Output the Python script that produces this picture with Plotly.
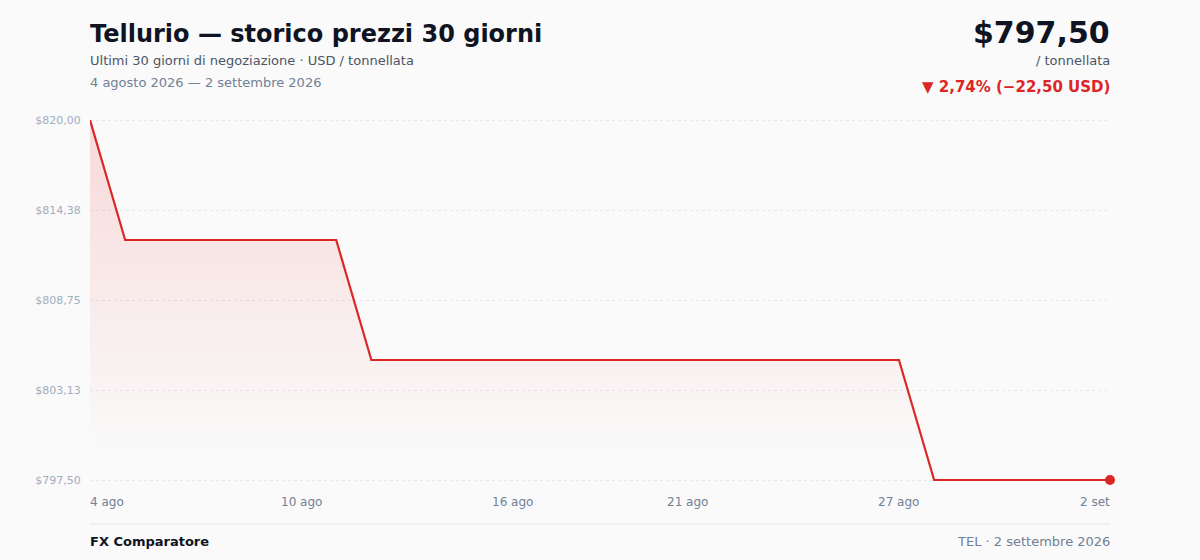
from decimal import Decimal, ROUND_HALF_UP

import plotly.graph_objects as go

# 30 giorni di prezzi (USD / tonnellata)
dates = [
    "2026-08-04", "2026-08-05", "2026-08-06", "2026-08-07", "2026-08-08",
    "2026-08-09", "2026-08-10", "2026-08-11", "2026-08-12", "2026-08-13",
    "2026-08-14", "2026-08-15", "2026-08-16", "2026-08-17", "2026-08-18",
    "2026-08-19", "2026-08-20", "2026-08-21", "2026-08-22", "2026-08-23",
    "2026-08-24", "2026-08-25", "2026-08-26", "2026-08-27", "2026-08-28",
    "2026-08-29", "2026-08-30", "2026-08-31", "2026-09-01", "2026-09-02",
]
prices = [
    820.0, 812.5, 812.5, 812.5, 812.5, 812.5, 812.5, 812.5, 805.0, 805.0,
    805.0, 805.0, 805.0, 805.0, 805.0, 805.0, 805.0, 805.0, 805.0, 805.0,
    805.0, 805.0, 805.0, 805.0, 797.5, 797.5, 797.5, 797.5, 797.5, 797.5,
]
y_ticks = [797.5, 803.125, 808.75, 814.375, 820.0]
x_tick_dates = ["2026-08-04", "2026-08-10", "2026-08-16", "2026-08-21", "2026-08-27", "2026-09-02"]
x_tick_labels = ["4 ago", "10 ago", "16 ago", "21 ago", "27 ago", "2 set"]

RED = "#dc2626"
BG = "#fafafa"
FONT = "DejaVu Sans"
low = min(prices)
high = max(prices)
pad = 0.125  # small headroom so the line at the edges is not clipped


def money(v):
    d = Decimal(str(v)).quantize(Decimal("0.01"), rounding=ROUND_HALF_UP)
    s = f"{d:,}".replace(",", "X").replace(".", ",").replace("X", ".")
    return "$" + s


def py(pix):
    # screen row -> paper y (the page has an 8px body margin)
    return (482 - pix) / 364


fig = go.Figure()

# baseline for the fill
fig.add_trace(go.Scatter(
    x=dates, y=[low] * len(dates), mode="lines",
    line=dict(width=0, color="rgba(0,0,0,0)"), hoverinfo="skip", showlegend=False,
))
fig.add_trace(go.Scatter(
    x=dates, y=prices, mode="lines", fill="tonexty",
    line=dict(color=RED, width=2.2),
    fillgradient=dict(
        type="vertical", start=low + 1.5, stop=high,
        colorscale=[[0, "rgba(239,68,68,0.0)"], [1, "rgba(239,68,68,0.18)"]],
    ),
    showlegend=False,
))
fig.add_trace(go.Scatter(
    x=[dates[-1]], y=[prices[-1]], mode="markers",
    marker=dict(color=RED, size=10), cliponaxis=False, showlegend=False,
))

annotations = []
for d, lab in zip(x_tick_dates, x_tick_labels):
    anchor, shift = "center", 0
    if d == dates[0]:
        anchor, shift = "left", -2
    elif d == dates[-1]:
        anchor, shift = "right", 2
    annotations.append(dict(
        x=d, xref="x", y=py(502), yref="paper", text=lab, showarrow=False, xshift=shift,
        xanchor=anchor, yanchor="middle", font=dict(size=12, color="#718096", family=FONT),
    ))

header = [
    dict(x=0, y=py(34), text="<b>Tellurio — storico prezzi 30 giorni</b>", xanchor="left",
         font=dict(size=24, color="#0f1423")),
    dict(x=0, y=py(61), text="Ultimi 30 giorni di negoziazione · USD / tonnellata", xanchor="left",
         font=dict(size=13, color="#4a5568")),
    dict(x=0, y=py(83), text="4 agosto 2026 — 2 settembre 2026", xanchor="left",
         font=dict(size=13, color="#718096")),
    dict(x=1, y=py(33), text="<b>$797,50</b>", xanchor="right",
         font=dict(size=30, color="#0f1423")),
    dict(x=1, y=py(61), text="/ tonnellata", xanchor="right",
         font=dict(size=13, color="#4a5568")),
    dict(x=1, y=py(87), text="<b>▼ 2,74% (−22,50 USD)</b>", xanchor="right",
         font=dict(size=15, color=RED)),
    dict(x=0, y=py(541), text="<b>FX Comparatore</b>", xanchor="left",
         font=dict(size=13, color="#0f1423")),
    dict(x=1, y=py(541), text="TEL · 2 settembre 2026", xanchor="right",
         font=dict(size=13, color="#718096")),
]
for a in header:
    a.update(xref="paper", yref="paper", showarrow=False, yanchor="middle",
             xshift=-2 if a["xanchor"] == "left" else 2)
annotations += header

fig.update_layout(
    width=1200, height=560,
    margin=dict(l=82, r=98, t=110, b=86),
    paper_bgcolor=BG, plot_bgcolor=BG,
    font=dict(family=FONT),
    annotations=annotations,
    shapes=[dict(type="line", xref="paper", yref="paper", x0=0, x1=1, y0=py(524), y1=py(524),
                 line=dict(color="#e5e7eb", width=1))],
    hovermode=False,
)
fig.update_xaxes(
    range=[dates[0], dates[-1]], showgrid=False, zeroline=False,
    showticklabels=False, showline=False,
)
fig.update_yaxes(
    range=[low - pad, high + pad], tickvals=y_ticks, ticktext=[money(v) for v in y_ticks],
    showgrid=True, gridcolor="#e5e7eb", griddash="dot", gridwidth=1,
    zeroline=False, showline=False, ticks="outside", ticklen=6, tickcolor="rgba(0,0,0,0)",
    tickfont=dict(size=11, color="#a0aec0", family=FONT),
)

# page margin shows through as white otherwise
fig.write_html("out.html", post_script=f"document.body.style.background = '{BG}';")
